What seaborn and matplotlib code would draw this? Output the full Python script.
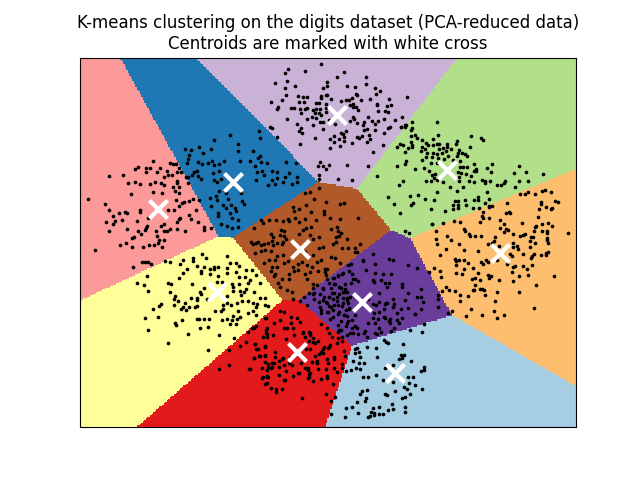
import numpy as np
import pandas as pd
import seaborn as sns
import matplotlib
matplotlib.use("Agg")
import matplotlib.pyplot as plt
from matplotlib.colors import ListedColormap

# values are on the 2D PCA plane, in plot units (second axis runs downward)
cluster_names = ["pink", "blue", "lilac", "green", "orange", "brown", "violet", "sky", "red", "yellow"]
cluster_colors = ["#fb9a99", "#1f78b4", "#cab2d6", "#b2df8a", "#fdbf6f", "#b15928", "#6a3d9a", "#a6cee3", "#e31a1c", "#ffff99"]
centroids = [(158, 209), (233, 182), (337, 115), (447, 170), (500, 253),
             (300, 249), (362, 302), (395, 373), (297, 352), (217, 292)]

pink_pts = [(88,199),(95,250),(109,176),(123,175),(105,204),(109,210),(113,216),(119,213),(125,212),(127,213),
    (115,221),(106,222),(113,224),(122,220),(109,231),(127,229),(120,245),(126,243),(132,238),(134,237),
    (132,247),(143,247),(149,245),(154,245),(158,243),(162,247),(159,240),(164,240),(138,231),(141,234),
    (145,230),(146,228),(157,236),(156,231),(164,231),(167,231),(170,229),(177,229),(185,231),(177,222),
    (179,219),(164,224),(161,226),(147,226),(137,221),(148,218),(140,210),(140,212),(128,183),(135,182),
    (140,184),(131,194),(150,184),(135,169),(138,167),(146,168),(146,172),(150,168),(153,161),(157,172),
    (160,168),(155,182),(161,183),(164,185),(153,192),(162,193),(164,177),(167,171),(168,175),(170,163),
    (173,164),(176,164),(179,168),(177,172),(181,172),(177,181),(177,183),(173,187),(179,187),(175,191),
    (179,193),(172,175),(186,177),(188,183),(176,200),(182,203),(184,202),(189,201),(193,199),(199,200),
    (168,210),(180,218),(189,215),(196,210),(191,219),(198,222),(204,227),(204,230),(211,228),(174,210),(179,206)]

blue_pts = [(185,149),(191,150),(189,155),(199,147),(203,153),(214,140),(230,135),(238,144),(211,149),(238,151),
    (188,159),(198,162),(187,163),(202,164),(208,163),(212,161),(214,165),(219,164),(224,161),(240,161),
    (194,172),(197,171),(192,175),(198,176),(201,179),(188,177),(213,173),(219,171),(214,180),(217,182),
    (221,179),(219,191),(226,193),(210,198),(216,196),(217,200),(228,199),(241,193),(242,201),(211,206),
    (223,205),(226,208),(231,205),(235,208),(244,204),(218,213),(230,213),(236,211),(218,216),(232,218),
    (238,220),(221,224),(227,226),(232,228),(238,227),(259,131),(260,138),(253,151),(260,156),(258,158),
    (250,161),(255,166),(261,162),(267,163),(286,162),(296,163),(262,171),(257,172),(264,175),(272,171),
    (277,172),(289,173),(277,178),(285,177),(297,177),(272,180),(256,180),(283,182),(297,182),(268,185),
    (275,184),(292,184)]

lilac_pts = [(321,64),(288,69),(285,73),(305,71),(344,72),(337,77),(366,77),(275,83),(287,81),(295,86),
    (285,88),(327,82),(323,88),(327,86),(347,86),(355,87),(366,84),(375,88),(380,91),(376,94),
    (286,95),(282,100),(271,102),(298,96),(303,97),(307,97),(299,102),(304,102),(321,96),(321,98),
    (326,95),(327,95),(331,99),(316,103),(319,103),(326,104),(341,101),(346,100),(349,100),(352,98),
    (356,94),(357,95),(361,100),(370,99),(389,99),(407,97),(278,107),(277,109),(291,108),(294,108),
    (300,109),(305,109),(307,108),(301,113),(313,110),(316,109),(320,109),(315,113),(319,113),(326,108),
    (326,112),(350,105),(353,104),(353,107),(356,107),(358,110),(377,104),(377,105),(387,106),(391,105),
    (378,111),(385,111),(388,112),(287,119),(307,119),(312,117),(316,118),(321,115),(313,125),(320,122),
    (323,122),(329,120),(335,124),(297,124),(350,121),(353,117),(354,119),(357,123),(364,122),(368,117),
    (372,121),(378,121),(384,119),(395,120),(402,117),(363,125),(375,124),(401,127),(390,127),(388,128),
    (270,127),(272,128),(301,128),(299,131),(302,133),(323,129),(346,131),(341,133),(364,130),(367,129),
    (375,130),(384,133),(277,137),(315,138),(330,139),(334,136),(343,134),(344,137),(357,137),(359,138),
    (362,136),(369,135),(370,139),(339,139),(344,141),(334,142),(352,143),(367,142),(300,144),(330,148),
    (340,146),(383,145),(373,152),(320,162),(318,166),(323,166),(329,165),(326,169),(347,165),(368,166),
    (319,175),(319,179),(338,179),(352,180)]

green_pts = [(412,122),(437,122),(405,125),(401,127),(412,128),(406,125),(405,127),(411,130),(411,136),(415,135),
    (417,138),(422,140),(438,135),(433,139),(471,136),(481,138),(483,140),(457,141),(456,144),(400,144),
    (403,145),(397,147),(411,142),(412,145),(412,147),(426,143),(428,145),(433,145),(437,144),(439,144),
    (443,148),(447,144),(447,147),(451,149),(470,147),(422,147),(425,149),(408,148),(405,152),(421,151),
    (427,153),(433,153),(439,149),(437,154),(442,153),(446,151),(448,156),(459,150),(458,153),(462,153),
    (465,154),(467,156),(457,156),(426,157),(432,157),(438,158),(422,160),(444,159),(453,160),(460,161),
    (406,161),(405,164),(431,163),(397,166),(415,169),(424,168),(437,163),(460,167),(463,167),(467,167),
    (474,164),(492,164),(487,168),(519,166),(429,171),(432,175),(435,174),(458,172),(461,173),(459,177),
    (466,174),(476,169),(476,171),(474,171),(491,172),(471,176),(514,173),(526,172),(543,174),(434,178),
    (426,181),(431,181),(437,180),(443,182),(459,181),(469,181),(474,182),(482,180),(485,181),(485,183),
    (490,181),(505,181),(519,181),(528,181),(403,181),(399,185),(497,185),(501,185),(504,183),(515,187),
    (450,187),(463,187),(457,191),(437,192),(487,192),(418,195),(410,196),(388,197),(425,199),(434,200),
    (455,201),(458,201),(465,200),(474,200),(478,200),(478,197),(489,199),(485,203),(394,204),(413,203),
    (411,205),(453,205),(458,205),(466,205),(431,209),(453,209),(458,208),(473,208),(479,208),(445,211),
    (400,213),(489,206),(432,224),(405,231),(409,233),(377,176)]

orange_pts = [(520,194),(525,194),(528,192),(535,194),(542,191),(545,190),(551,192),(507,203),(541,202),(541,204),
    (555,201),(558,202),(546,207),(552,208),(551,209),(539,209),(506,213),(509,212),(510,213),(538,217),
    (489,207),(492,206),(483,212),(482,216),(483,218),(480,222),(489,218),(500,220),(504,224),(522,223),
    (536,226),(535,227),(542,224),(548,223),(552,226),(500,228),(506,229),(508,230),(534,231),(542,231),
    (547,231),(547,233),(568,233),(504,232),(495,237),(513,234),(520,236),(523,235),(525,234),(531,237),
    (533,237),(530,241),(535,243),(547,238),(547,240),(548,243),(481,236),(475,236),(469,234),(470,236),
    (464,229),(465,231),(460,222),(454,221),(443,223),(432,224),(436,231),(447,236),(436,239),(451,240),
    (437,244),(459,244),(446,249),(464,250),(478,251),(440,255),(494,241),(488,244),(492,243),(499,246),
    (513,243),(513,247),(517,246),(518,249),(510,254),(512,256),(523,254),(530,247),(534,254),(532,256),
    (531,258),(541,255),(546,253),(548,252),(546,255),(486,260),(488,262),(497,260),(507,264),(481,262),
    (483,264),(455,259),(456,261),(459,260),(464,260),(468,263),(456,265),(473,268),(464,269),(434,268),
    (429,272),(440,271),(456,273),(462,274),(478,273),(441,277),(488,275),(491,276),(489,278),(472,279),
    (475,278),(480,280),(499,280),(513,267),(515,266),(512,272),(519,276),(523,266),(527,269),(532,265),
    (528,275),(513,281),(554,276),(536,285),(446,287),(449,290),(442,291),(455,291),(475,285),(473,290),
    (474,290),(480,289),(482,289),(484,290),(497,292),(519,292),(460,295),(468,296),(485,295),(460,301),
    (495,301),(471,309),(494,311),(534,308),(452,311),(482,315),(466,316),(504,315),(497,318)]

brown_pts = [(305,193),(310,192),(319,188),(314,199),(306,205),(293,207),(294,211),(299,209),(311,212),(324,211),
    (326,202),(340,204),(344,203),(324,214),(330,218),(358,218),(340,219),(316,220),(305,219),(289,221),
    (295,218),(283,221),(276,220),(288,219),(269,220),(261,220),(263,223),(254,228),(299,222),(306,228),
    (311,227),(331,229),(337,227),(338,231),(341,233),(336,237),(339,236),(347,239),(281,230),(284,231),
    (271,234),(280,235),(284,236),(273,237),(286,239),(299,234),(303,230),(310,235),(313,239),(319,237),
    (258,242),(251,242),(253,244),(256,243),(272,241),(277,243),(283,242),(282,244),(261,245),(264,244),
    (273,245),(268,243),(336,242),(333,244),(342,248),(348,248),(355,248),(360,244),(357,252),(355,252),
    (319,248),(313,255),(323,247),(261,251),(255,253),(265,250),(271,251),(283,255),(277,256),(305,252),
    (288,261),(275,260),(269,260),(264,263),(272,267),(277,267),(284,263),(293,267),(298,264),(302,262),
    (307,265),(312,267),(317,262),(321,260),(331,257),(335,258),(340,263),(325,269),(325,272),(327,269),
    (326,275),(318,271),(310,272),(305,274),(298,270),(294,271),(289,274),(275,274),(271,271),(274,276),
    (289,279),(282,279),(278,283),(307,279),(313,284),(317,285),(287,290),(292,292),(293,299),(280,287)]

violet_pts = [(373,254),(389,259),(351,264),(363,260),(393,260),(366,270),(349,271),(342,274),(375,273),(333,278),
    (338,276),(327,279),(353,279),(358,281),(374,282),(334,284),(341,288),(344,292),(347,292),(331,288),
    (332,293),(323,289),(320,294),(313,288),(314,293),(309,293),(304,297),(324,297),(329,297),(337,297),
    (347,298),(368,299),(314,299),(319,302),(327,303),(343,303),(348,303),(334,305),(349,308),(300,301),
    (307,305),(373,304),(331,307),(338,305),(349,309),(327,312),(338,314),(344,315),(321,313),(347,316),
    (330,319),(355,315),(341,321),(347,323),(357,328),(353,333),(338,332),(341,330),(350,333),(365,331),
    (377,334),(367,337),(378,319),(384,317),(389,321),(394,328),(402,318),(415,314),(386,303),(397,313),
    (369,308),(374,313),(376,305),(384,309),(394,304),(327,328),(321,324),(421,289),(421,297),(423,302),
    (421,309),(438,295),(438,299),(438,307),(448,313),
    (363,261),(348,265),(375,264),(383,274),(391,274),(417,268),(408,265),(338,275),(343,273),(334,278),
    (352,274),(355,279),(351,283),(373,280),(381,280),(385,283),(389,283),(387,287),(402,284),(402,287),
    (329,283),(335,284),(339,287),(345,284),(345,289),(323,288),(313,294),(329,297),(334,293),(339,294),
    (343,292),(350,297),(343,298),(347,300),(323,300),(333,299),(337,301),(326,302),(320,307),(329,306),
    (333,310),(342,306),(346,310),(339,312),(344,315),(328,312),(333,317),(321,310),(379,293),(379,302),
    (387,303),(393,299),(385,304),(405,300),(408,293),(417,297),(393,307),(408,308),(401,309),(415,314),
    (379,312),(373,318),(385,318),(390,319),(397,320),(390,323),(375,323),(379,328),(368,323),(348,321),
    (352,320),(338,325),(346,326),(352,328),(355,326),(339,330),(347,335),(358,334),(364,333),(375,333),
    (381,332),(391,331),(399,323),(342,337)]

sky_pts = [(357,348),(355,349),(359,352),(355,353),(367,347),(376,348),(360,357),(377,357),(353,361),(359,363),
    (364,363),(356,368),(360,369),(351,370),(346,371),(363,377),(368,377),(376,375),(383,380),(385,368),
    (393,365),(404,355),(401,355),(402,358),(399,359),(411,361),(384,340),(386,342),(388,343),(410,330),
    (422,332),(424,324),(403,344),(408,377),(413,377),(409,383),(404,387),(407,389),(415,385),(422,389),
    (424,367),(421,371),(424,370),(393,382),(395,391),(385,394),(387,395),(402,398),(405,397),(410,394),
    (367,390),(362,391),(360,394),(366,398),(365,401),(357,402),(352,407),(346,408),(345,417),(358,413),
    (373,408),(371,412),(374,413),(379,407),(379,414),(383,414),(388,410),(392,404),(393,409),(405,407),
    (405,412),(368,417),(370,416),(374,415)]

red_pts = [(280,311),(284,312),(274,323),(280,320),(265,318),(291,317),(297,318),(300,322),(291,323),(254,328),
    (267,328),(267,334),(273,335),(255,344),(287,328),(294,335),(303,333),(309,332),(305,337),(286,339),
    (310,335),(313,338),(309,341),(313,342),(318,341),(329,333),(332,337),(338,338),(342,341),(337,343),
    (328,348),(324,347),(330,345),(344,351),(310,349),(306,349),(258,349),(265,347),(260,356),(254,358),
    (275,352),(275,357),(283,358),(265,355),(290,357),(315,356),(319,354),(323,353),(327,359),(334,357),
    (345,356),(342,364),(317,361),(312,362),(301,363),(305,368),(292,365),(284,365),(279,367),(272,363),
    (265,362),(268,364),(274,363),(271,368),(267,370),(298,373),(308,370),(309,374),(318,369),(326,369),
    (334,368),(337,372),(342,368),(250,369),(279,375),(293,376),(284,380),(263,377),(267,377),(267,383),
    (265,384),(271,388),(276,389),(282,389),(276,392),(308,378),(313,381),(321,379),(327,376),(327,378),
    (333,384),(326,394),(302,398),(331,401),(335,397),(331,414),(248,332),(252,328),(256,326),(266,318),
    (266,330),(266,333),(263,337),(267,337),(246,342),(240,346),(255,344),(229,350),(256,349),(265,346),
    (254,358),(259,356),(265,356),(229,365),(219,369),(249,369),(262,368),(268,367),(272,367),(262,378),
    (267,376),(284,328),
    (293,328),(303,332),(310,333),(315,343),(323,349),(329,347),(321,352),(282,359),(279,361),(289,363),
    (286,371),(308,368),(310,373),(317,363),(328,363),(334,359),(268,377),(285,380),(299,373),(309,377)]

yellow_pts = [(133,267),(142,262),(145,262),(148,262),(151,264),(147,276),(137,283),(144,285),(148,291),(168,283),
    (171,284),(170,292),(165,261),(170,262),(180,264),(183,260),(193,258),(193,261),(197,266),(204,267),
    (202,254),(206,258),(187,269),(183,273),(179,278),(201,271),(201,273),(210,269),(214,267),(218,267),
    (214,269),(210,274),(227,256),(230,263),(236,263),(239,266),(227,268),(227,273),(236,272),(246,270),
    (252,270),(256,275),(218,276),(239,277),(245,277),(250,280),(192,284),(217,282),(222,282),(232,284),
    (233,287),(239,284),(248,283),(260,283),(204,288),(200,292),(201,294),(233,291),(240,291),(246,289),
    (244,292),(254,292),(175,296),(174,299),(178,301),(185,303),(191,298),(197,298),(197,300),(207,299),
    (227,296),(241,295),(260,298),(265,298),(174,305),(161,304),(159,306),(153,309),(183,307),(181,309),
    (189,307),(186,310),(197,306),(195,307),(223,305),(227,303),(231,305),(237,303),(242,301),(248,301),
    (253,303),(257,304),(265,305),(268,306),(256,307),(215,311),(221,311),(223,309),(238,311),(248,313),
    (253,311),(256,315),(145,318),(158,317),(175,323),(176,325),(182,320),(197,319),(199,319),(204,319),
    (209,319),(222,320),(227,319),(233,316),(232,320),(237,319),(240,317),(230,324),(236,324),(148,330),
    (200,328),(208,327),(188,334),(219,335),(234,338),(168,343),(208,350)]

all_pts = [pink_pts, blue_pts, lilac_pts, green_pts, orange_pts, brown_pts, violet_pts, sky_pts, red_pts, yellow_pts]

x_min, x_max = 80, 576
y_min, y_max = 57.6, 427.2
y_weight = 1.53  # axes are not equally scaled in the original PCA units

df = pd.concat([pd.DataFrame(p, columns=["pc1", "pc2"]).assign(cluster=n)
                for p, n in zip(all_pts, cluster_names)], ignore_index=True)
df_c = pd.DataFrame(centroids, columns=["pc1", "pc2"])

# decision regions, nearest centroid on a mesh
xx, yy = np.meshgrid(np.arange(x_min, x_max, 1.5), np.arange(y_min, y_max, 1.5))
dist = [(xx - c[0]) ** 2 + y_weight * (yy - c[1]) ** 2 for c in centroids]
regions = np.argmin(dist, axis=0)

fig, ax = plt.subplots(figsize=(6.4, 4.8), dpi=100)
ax.imshow(regions, interpolation="nearest", extent=(x_min, x_max, y_max, y_min),
          cmap=ListedColormap(cluster_colors), vmin=0, vmax=9, aspect="auto", origin="upper")
sns.scatterplot(data=df, x="pc1", y="pc2", color="k", s=7, linewidth=0, ax=ax, zorder=5)
sns.scatterplot(data=df_c, x="pc1", y="pc2", color="w", marker="x", s=169, linewidth=3, ax=ax, zorder=10)

ax.set_title("K-means clustering on the digits dataset (PCA-reduced data)\n"
             "Centroids are marked with white cross")
ax.set_xlim(x_min, x_max)
ax.set_ylim(y_max, y_min)
ax.set_xlabel("")
ax.set_ylabel("")
ax.set_xticks([])
ax.set_yticks([])

fig.savefig("out.png", dpi=100)
